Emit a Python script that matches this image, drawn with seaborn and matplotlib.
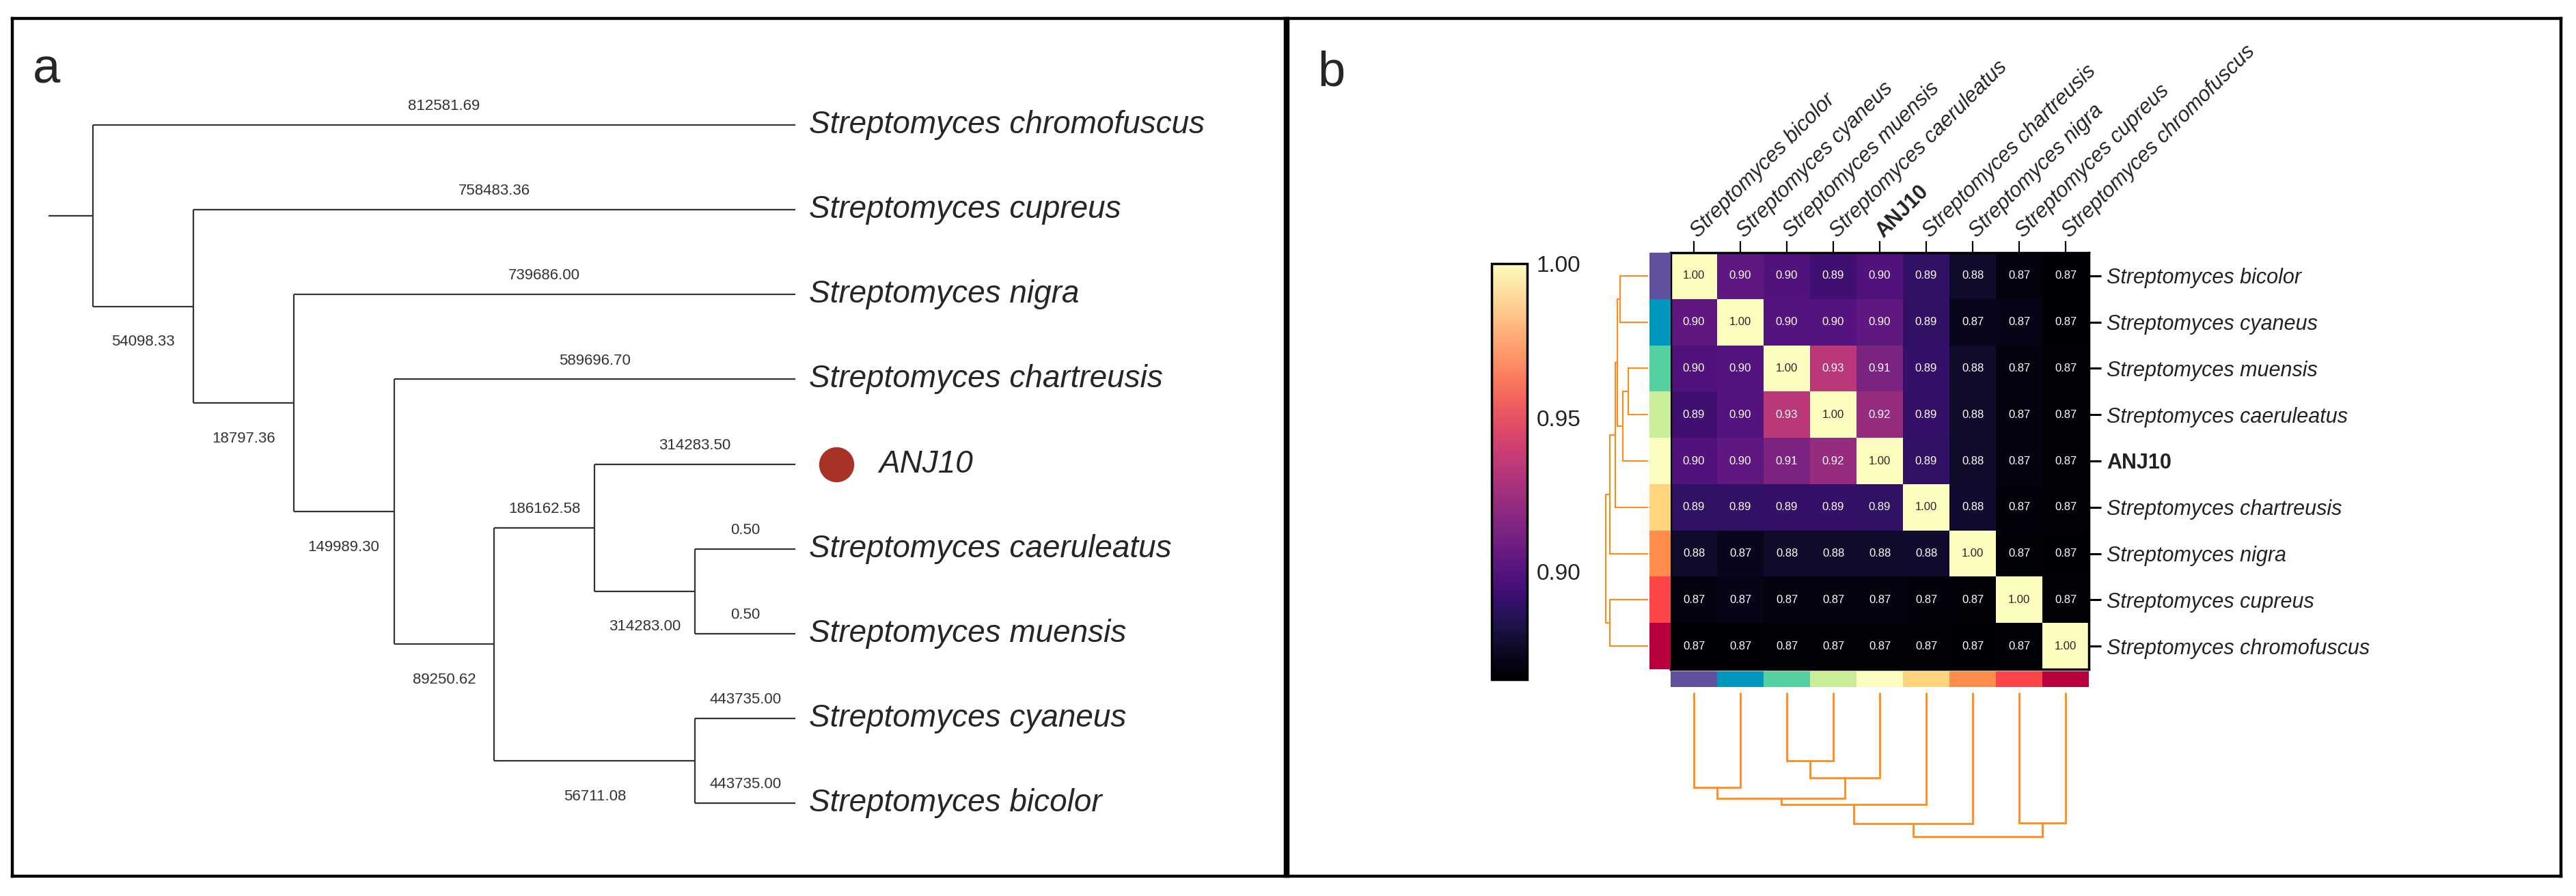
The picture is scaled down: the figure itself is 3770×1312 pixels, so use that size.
import numpy as np
import pandas as pd
import seaborn as sns
import matplotlib
matplotlib.use("Agg")
import matplotlib.pyplot as plt
from matplotlib.colors import ListedColormap
from matplotlib.ticker import FormatStrFormatter

# ---- panel a : tree ----
tree_leaves = ["Streptomyces chromofuscus", "Streptomyces cupreus", "Streptomyces nigra",
               "Streptomyces chartreusis", "ANJ10", "Streptomyces caeruleatus",
               "Streptomyces muensis", "Streptomyces cyaneus", "Streptomyces bicolor"]
tree_leaf_lengths = ["812581.69", "758483.36", "739686.00", "589696.70", "314283.50",
                     "0.50", "0.50", "443735.00", "443735.00"]
# merges: leaves are 0-8, each merge makes node 9, 10, ...
tree_merges = [(5, 6), (7, 8), (4, 9), (11, 10), (3, 12), (2, 13), (1, 14), (0, 15)]
tree_node_lengths = ["314283.00", "56711.08", "186162.58", "89250.62", "149989.30",
                     "18797.36", "54098.33", ""]
tree_node_above = [False, False, True, False, False, False, False, False]

# ---- panel b : similarity heatmap ----
species = ["Streptomyces bicolor", "Streptomyces cyaneus", "Streptomyces muensis",
           "Streptomyces caeruleatus", "ANJ10", "Streptomyces chartreusis",
           "Streptomyces nigra", "Streptomyces cupreus", "Streptomyces chromofuscus"]
similarity = [
    [1.000, 0.904, 0.899, 0.893, 0.899, 0.889, 0.876, 0.869, 0.866],
    [0.904, 1.000, 0.900, 0.900, 0.904, 0.889, 0.872, 0.871, 0.866],
    [0.899, 0.900, 1.000, 0.934, 0.914, 0.890, 0.876, 0.869, 0.867],
    [0.893, 0.900, 0.934, 1.000, 0.922, 0.890, 0.876, 0.869, 0.867],
    [0.899, 0.904, 0.914, 0.922, 1.000, 0.889, 0.876, 0.869, 0.867],
    [0.889, 0.889, 0.890, 0.890, 0.889, 1.000, 0.877, 0.868, 0.867],
    [0.876, 0.872, 0.876, 0.876, 0.876, 0.877, 1.000, 0.867, 0.866],
    [0.869, 0.871, 0.869, 0.869, 0.869, 0.868, 0.867, 1.000, 0.867],
    [0.866, 0.866, 0.867, 0.867, 0.867, 0.867, 0.866, 0.867, 1.000],
]
side_colors = ["#6150a0", "#0196be", "#55d0a1", "#c9ee97", "#fdfdc1",
               "#fed47d", "#fe8c4b", "#fd4549", "#b8003e"]
dend_merges = [(2, 3), (9, 4), (0, 1), (11, 10), (12, 5), (7, 8), (13, 6), (15, 14)]
dend_heights = [0.099, 0.124, 0.138, 0.154, 0.163, 0.190, 0.191, 0.210]
cbar_ticks = [0.90, 0.95, 1.00]

W, H, DPI = 3770, 1312, 100
sns.set_style("white")
plt.rcParams['font.family'] = ['Liberation Sans', 'DejaVu Sans']
fig = plt.figure(figsize=(W / DPI, H / DPI), dpi=DPI)


def px_axes(x0, y0, x1, y1):
    return fig.add_axes([x0 / W, 1 - y1 / H, (x1 - x0) / W, (y1 - y0) / H])


def frame(ax, lw=3.2):
    ax.set_xticks([])
    ax.set_yticks([])
    for s in ax.spines.values():
        s.set_visible(True)
        s.set_linewidth(lw)
        s.set_color("black")


# ================= panel a =================
ax_a = px_axes(18, 27, 1881, 1283)
frame(ax_a)
xs = (1164 - 136) / 7
ys = (1176 - 183) / 8
ax_a.set_xlim((18 - 136) / xs, (1881 - 136) / xs)
ax_a.set_ylim((1283 - 183) / ys, (27 - 183) / ys)

ypos = {i: float(i) for i in range(len(tree_leaves))}
height = {i: 0 for i in range(len(tree_leaves))}
parent = {}
for k, (a, b) in enumerate(tree_merges):
    nid = len(tree_leaves) + k
    height[nid] = max(height[a], height[b]) + 1
    ypos[nid] = (ypos[a] + ypos[b]) / 2
    parent[a] = nid
    parent[b] = nid
top = max(height.values())
xpos = {n: top - h for n, h in height.items()}

line_kw = dict(color="#333333", lw=1.6, solid_capstyle="butt")
for k, (a, b) in enumerate(tree_merges):
    nid = len(tree_leaves) + k
    ax_a.plot([xpos[nid], xpos[nid]], [ypos[a], ypos[b]], **line_kw)
    for c in (a, b):
        ax_a.plot([xpos[nid], xpos[c]], [ypos[c], ypos[c]], **line_kw)
root = len(tree_leaves) + len(tree_merges) - 1
ax_a.plot([-0.44, 0], [ypos[root], ypos[root]], **line_kw)

# branch length labels
for i, lab in enumerate(tree_leaf_lengths):
    p = parent[i]
    ax_a.text((xpos[p] + xpos[i]) / 2, ypos[i] - 0.22, lab, ha="center", va="center",
              fontsize=16, color="#333333")
for k, lab in enumerate(tree_node_lengths):
    nid = len(tree_leaves) + k
    if not lab:
        continue
    p = parent[nid]
    dy = -0.22 if tree_node_above[k] else 0.42
    ax_a.text((xpos[p] + xpos[nid]) / 2, ypos[nid] + dy, lab, ha="center", va="center",
              fontsize=16, color="#333333")

for i, name in enumerate(tree_leaves):
    if name == "ANJ10":
        ax_a.plot([top + 0.41], [ypos[i]], "o", ms=36, color="#a93226")
        ax_a.text(top + 0.83, ypos[i], name, ha="left", va="center",
                  fontsize=33, style="italic")
    else:
        ax_a.text(top + 0.136, ypos[i], name, ha="left", va="center",
                  fontsize=33, style="italic")

fig.text(48 / W, 1 - 121 / H, "a", fontsize=52, va="baseline")

# ================= panel b =================
ax_b = px_axes(1885, 27, 3748, 1283)
frame(ax_b)
fig.text(1928 / W, 1 - 126 / H, "b", fontsize=52, va="baseline")

ax_hm = px_axes(2445, 370, 3057, 980)
cax = px_axes(2183, 386, 2235, 995)
df = pd.DataFrame(similarity, index=species, columns=species)
sns.heatmap(df, ax=ax_hm, cmap="magma", vmin=0.865, vmax=1.0, annot=True, fmt=".2f",
            annot_kws={"size": 12}, cbar_ax=cax, cbar_kws={"ticks": cbar_ticks})

ax_hm.xaxis.tick_top()
ax_hm.yaxis.tick_right()
ax_hm.tick_params(axis="x", top=True, bottom=False, labeltop=True, labelbottom=False,
                  length=12, width=1.6, pad=7, color="black")
ax_hm.tick_params(axis="y", right=True, left=False, labelright=True, labelleft=False,
                  length=13, width=2.2, pad=6, color="black")
ax_hm.set_xticklabels(species)
ax_hm.set_yticklabels(species, rotation=0)
for lbl in ax_hm.get_xticklabels():
    lbl.set_rotation(45)
    lbl.set_rotation_mode("anchor")
    lbl.set_ha("left")
    lbl.set_va("center")
    lbl.set_fontsize(22)
    lbl.set_color("#222222")
    if lbl.get_text() == "ANJ10":
        lbl.set_fontweight("bold")
    else:
        lbl.set_style("italic")
for lbl in ax_hm.get_yticklabels():
    lbl.set_fontsize(22)
    lbl.set_color("#222222")
    if lbl.get_text() == "ANJ10":
        lbl.set_fontweight("bold")
    else:
        lbl.set_style("italic")
ax_hm.set_xlabel("")
ax_hm.set_ylabel("")
for s in ax_hm.spines.values():
    s.set_visible(True)
    s.set_linewidth(2.5)
    s.set_color("black")

cbar = ax_hm.collections[0].colorbar
cbar.outline.set_linewidth(2.5)
cbar.outline.set_edgecolor("black")
cax.yaxis.set_major_formatter(FormatStrFormatter("%.2f"))
cax.tick_params(direction="in", length=8, width=2.2, left=True, right=True,
                labelleft=False, labelright=True, labelsize=24, pad=10,
                color="black", labelcolor="#222222")

# side colour strips
side_cmap = ListedColormap(side_colors)
ax_rc = px_axes(2414, 370, 2445, 980)
sns.heatmap(np.arange(len(species)).reshape(-1, 1), ax=ax_rc, cmap=side_cmap,
            cbar=False, xticklabels=False, yticklabels=False)
ax_cc = px_axes(2445, 983, 3057, 1006)
sns.heatmap(np.arange(len(species)).reshape(1, -1), ax=ax_cc, cmap=side_cmap,
            cbar=False, xticklabels=False, yticklabels=False)

# dendrograms
def draw_dendro(ax, orient, lw):
    n = len(species)
    pos = {i: i + 0.5 for i in range(n)}
    hgt = {i: 0.0 for i in range(n)}
    for k, ((a, b), hh) in enumerate(zip(dend_merges, dend_heights)):
        p = [pos[a], pos[a], pos[b], pos[b]]
        h = [hgt[a], hh, hh, hgt[b]]
        if orient == "left":
            ax.plot(h, p, color="#ff8c1a", lw=lw, solid_joinstyle="miter")
        else:
            ax.plot(p, h, color="#ff8c1a", lw=lw, solid_joinstyle="miter")
        pos[n + k] = (pos[a] + pos[b]) / 2
        hgt[n + k] = hh
    ax.axis("off")


ax_rd = px_axes(2340, 370, 2412, 980)
draw_dendro(ax_rd, "left", 1.5)
ax_rd.set_ylim(9, 0)
ax_rd.set_xlim((2412 - 2340) / ((2412 - 2350) / 0.21), 0)

ax_cd = px_axes(2445, 1010, 3057, 1235)
draw_dendro(ax_cd, "bottom", 2.0)
ax_cd.set_xlim(0, 9)
ax_cd.set_ylim((1235 - 1015) / 1000, (1010 - 1015) / 1000)

fig.savefig("out.png", dpi=DPI)
